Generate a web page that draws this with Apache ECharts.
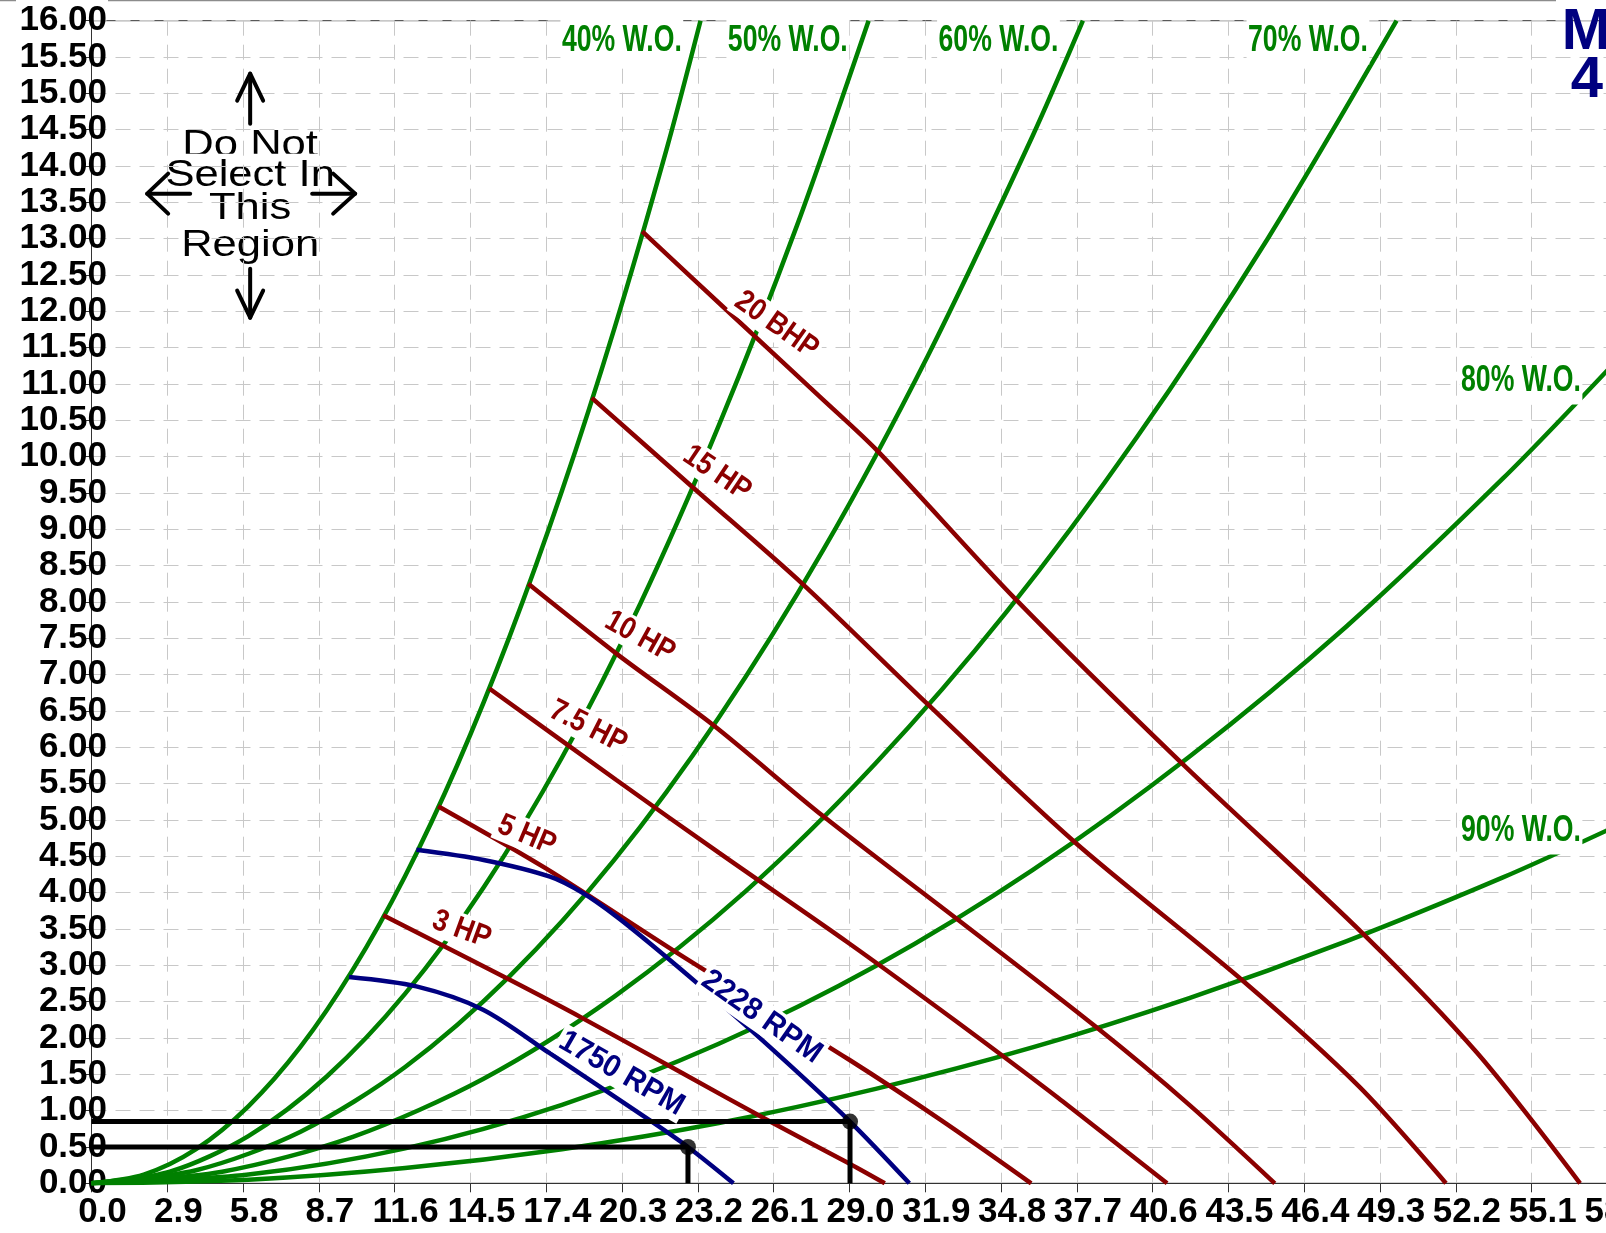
<!DOCTYPE html>
<html>
<head>
<meta charset="utf-8">
<script src="https://cdn.jsdelivr.net/npm/echarts@6/dist/echarts.min.js"></script>
<style>
  html, body { margin: 0; padding: 0; background: #fff; }
  #chart { width: 1606px; height: 1233px; }
</style>
</head>
<body>
<div id="chart"></div>
<script>
// Fan selection chart: system curves (% wide open), brake-horsepower lines and speed curves.

// ---- axis ticks ----
const xTickValues = [0.0, 2.9, 5.8, 8.7, 11.6, 14.5, 17.4, 20.3, 23.2, 26.1, 29.0, 31.9, 34.8, 37.7, 40.6, 43.5, 46.4, 49.3, 52.2, 55.1, 58.0];
const yTickValues = [0, 0.5, 1, 1.5, 2, 2.5, 3, 3.5, 4, 4.5, 5, 5.5, 6, 6.5, 7, 7.5, 8, 8.5, 9, 9.5, 10, 10.5, 11, 11.5, 12, 12.5, 13, 13.5, 14, 14.5, 15, 15.5, 16];

// ---- system curves, % wide open ----
const wo40 = [[0,0],[2,0.12],[4,0.47],[6,1.06],[8,1.88],[10,2.94],[12,4.23],[14,5.76],[16,7.53],[18,9.53],[20,11.76],[22,14.23],[23.3,16.0]];
const wo50 = [[0,0],[3,0.16],[6,0.65],[9,1.47],[12,2.61],[15,4.07],[18,5.86],[21,7.98],[24,10.43],[27,13.19],[29.73,16.0]];
const wo60 = [[0,0],[4,0.18],[8,0.71],[12,1.60],[16,2.85],[20,4.45],[24,6.41],[28,8.72],[32,11.39],[36,14.41],[37.93,16.0]];
const wo70 = [[0,0],[5,0.16],[10,0.64],[15,1.44],[20,2.57],[25,4.01],[30,5.78],[35,7.86],[40,10.27],[45,13.0],[49.93,16.0]];
const wo80 = [[0,0],[6,0.12],[12,0.48],[18,1.08],[24,1.92],[30,2.99],[36,4.31],[42,5.87],[48,7.66],[54,9.70],[58,11.19]];
const wo90 = [[0,0],[6,0.05],[12,0.21],[18,0.47],[24,0.83],[30,1.30],[36,1.87],[42,2.55],[48,3.33],[54,4.21],[58,4.86]];

// ---- brake horsepower lines ----
const hp3  = [[11.16,3.69],[16.0,2.80],[18.8,2.27],[22.63,1.51],[25.96,0.85],[28.9,0.29],[30.35,0]];
const hp5  = [[13.26,5.19],[17.4,4.33],[22.63,3.12],[28.99,1.70],[32.5,0.87],[35.95,0]];
const hp75 = [[15.22,6.81],[20.08,5.55],[24.0,4.55],[28.99,3.30],[33.0,2.25],[37.0,1.17],[41.15,0]];
const hp10 = [[16.71,8.25],[20.08,7.29],[23.77,6.31],[28.0,5.05],[33.1,3.64],[38.4,2.16],[42.0,1.08],[45.27,0]];
const hp15 = [[19.14,10.81],[23.0,9.58],[27.2,8.25],[32.0,6.59],[37.6,4.70],[44.07,2.78],[48.5,1.33],[51.82,0]];
const hp20 = [[21.07,13.10],[24.5,11.95],[27.85,10.83],[30.07,10.08],[35.35,8.04],[41.72,5.78],[48.69,3.42],[53.0,1.80],[56.95,0]];

// ---- fan speed curves ----
const rpm1750 = [[9.85,2.84],[12.43,2.71],[14.98,2.39],[17.53,1.79],[21.35,0.87],[22.82,0.50],[24.56,0]];
const rpm2228 = [[12.43,4.59],[15.0,4.45],[17.54,4.22],[18.82,3.99],[20.09,3.67],[21.37,3.30],[23.28,2.72],[26.0,1.86],[29.02,0.85],[31.29,0]];

// ---- selected operating points ----
const opPoints = [[22.82,0.50],[29.02,0.85]];

// ---- curve captions ----
const woNames = ['40% W.O.', '50% W.O.', '60% W.O.', '70% W.O.', '80% W.O.', '90% W.O.'];
const hpNames = ['3 HP', '5 HP', '7.5 HP', '10 HP', '15 HP', '20 BHP'];
const rpmNames = ['1750 RPM', '2228 RPM'];

// caption anchors (data coordinates) and text angles
const woAnchors = [[20.29,15.72],[26.64,15.72],[34.70,15.72],[46.54,15.72],[54.69,11.04],[54.69,4.85]];
const hpAnchors = [[14.16,3.49],[16.65,4.79],[19.0,6.28],[20.98,7.52],[23.93,9.77],[26.21,11.81]];
const hpAngles = [-20, -23, -27, -29, -34, -35];
const rpmAnchors = [[20.28,1.51],[25.64,2.29]];
const rpmAngles = [-30, -35];

const FONT = "'Liberation Sans', Arial, Helvetica, sans-serif";
const GREEN = '#008000', RED = '#8b0000', NAVY = '#000080', GRID = '#c8c8c8';

const chart = echarts.init(document.getElementById('chart'), null, { renderer: 'canvas' });

function curve(name, data, color, z) {
  return {
    name, type: 'line', data, z,
    smooth: 0.3,
    symbol: 'none', showSymbol: false,
    lineStyle: { color, width: 4.5 },
    emphasis: { disabled: true }, silent: true
  };
}

const woData = [wo40, wo50, wo60, wo70, wo80, wo90];
const hpData = [hp3, hp5, hp75, hp10, hp15, hp20];
const rpmData = [rpm1750, rpm2228];

const series = [];
woData.forEach((d, i) => series.push(curve(woNames[i], d, GREEN, 2)));
hpData.forEach((d, i) => series.push(curve(hpNames[i], d, RED, 3)));
rpmData.forEach((d, i) => series.push(curve(rpmNames[i], d, NAVY, 4)));

// guide lines from each operating point to both axes
opPoints.forEach((p, i) => {
  series.push({
    name: 'guide' + i, type: 'line', z: 5, smooth: false, symbol: 'none',
    data: [[0, p[1]], [p[0], p[1]], [p[0], 0]],
    lineStyle: { color: '#000', width: 5 }, silent: true
  });
});
series.push({
  name: 'points', type: 'scatter', z: 6, data: opPoints,
  symbol: 'circle', symbolSize: 16, itemStyle: { color: '#000' }, silent: true
});

const option = {
  animation: false,
  backgroundColor: '#fff',
  textStyle: { fontFamily: FONT },
  grid: {
    left: 91.5, top: 20.7, width: 1516, height: 1162.6,
    outerBoundsMode: 'none', containLabel: false,
    show: true, borderColor: '#333', borderWidth: 1, backgroundColor: 'transparent'
  },
  xAxis: {
    type: 'value',
    min: xTickValues[0], max: xTickValues[xTickValues.length - 1],
    interval: xTickValues[1] - xTickValues[0],
    axisLine: { show: true, onZero: false, lineStyle: { color: '#333', width: 1 } },
    axisTick: { show: true, length: 9, lineStyle: { color: '#333', width: 1 } },
    axisLabel: {
      fontSize: 35, fontWeight: 'bold', color: '#000', fontFamily: FONT,
      margin: 12, padding: [0, 0, 0, 22],
      formatter: v => v.toFixed(1), showMinLabel: true, showMaxLabel: true
    },
    splitLine: { show: true, lineStyle: { color: GRID, width: 1, type: [15, 9] } }
  },
  yAxis: {
    type: 'value',
    min: yTickValues[0], max: yTickValues[yTickValues.length - 1],
    interval: yTickValues[1] - yTickValues[0],
    axisLine: { show: true, onZero: false, lineStyle: { color: '#333', width: 1 } },
    axisTick: { show: true, length: 8, lineStyle: { color: '#333', width: 1 } },
    axisLabel: {
      fontSize: 35, fontWeight: 'bold', color: '#000', fontFamily: FONT,
      margin: -15.5, formatter: v => v.toFixed(2), showMinLabel: true, showMaxLabel: true
    },
    splitLine: { show: true, lineStyle: { color: GRID, width: 1, type: [15, 9] } }
  },
  series
};

chart.setOption(option);

// ---- captions and annotations, placed through the chart's own coordinate system ----
const toPx = pt => chart.convertToPixel({ gridIndex: 0 }, pt);
const deg = a => a * Math.PI / 180;
const graphics = [];

woNames.forEach((t, i) => {
  const [x, y] = toPx(woAnchors[i]);
  graphics.push({
    type: 'text', x, y, scaleX: 0.72, z: 20,
    style: {
      text: t, fill: GREEN, font: `bold 37px ${FONT}`,
      align: 'center', verticalAlign: 'middle',
      backgroundColor: '#fff', padding: [6, 2, 4, 2]
    }
  });
});

function slantedCaption(text, anchor, angle, color, size, sx) {
  const [x, y] = toPx(anchor);
  return {
    type: 'text', x, y, rotation: deg(angle), scaleX: sx, z: 15,
    style: {
      text, fill: color, font: `bold ${size}px ${FONT}`,
      align: 'center', verticalAlign: 'middle',
      backgroundColor: '#fff', padding: [1, 3, 0, 3]
    }
  };
}
hpNames.forEach((t, i) => graphics.push(slantedCaption(t, hpAnchors[i], hpAngles[i], RED, 31, 0.87)));
rpmNames.forEach((t, i) => graphics.push(slantedCaption(t, rpmAnchors[i], rpmAngles[i], NAVY, 31, 0.95)));

// "Do Not Select In This Region" notice with four arrows
const [cx, cy] = toPx([6.07, 13.62]);
const noticeLines = ['Do Not', 'Select In', 'This', 'Region'];
const noticeOffsets = [-48, -18, 15, 52];
const noticePadTop = [6, 6, 6, 14];
noticeLines.forEach((t, i) => {
  graphics.push({
    type: 'text', x: cx, y: cy + noticeOffsets[i], scaleX: 1.21, z: -1,
    style: {
      text: t, fill: '#000', font: `36px ${FONT}`,
      align: 'center', verticalAlign: 'middle',
      backgroundColor: '#fff', padding: [noticePadTop[i], 1, 2, 1]
    }
  });
});
const arrowStyle = { stroke: '#000', lineWidth: 4, fill: null, lineCap: 'round', lineJoin: 'round' };
const arrows = [
  // up
  [[[0, -70], [0, -120]], [[-13, -93], [0, -120], [13, -93]]],
  // down
  [[[0, 75], [0, 124]], [[-13, 97], [0, 124], [13, 97]]],
  // left
  [[[-60, 0], [-103, 0]], [[-82, -20], [-103, 0], [-82, 20]]],
  // right
  [[[62, 0], [105, 0]], [[83, -20], [105, 0], [83, 20]]]
];
arrows.forEach(([stem, head]) => {
  [stem, head].forEach(pts => {
    graphics.push({
      type: 'polyline', z: 1,
      shape: { points: pts.map(p => [cx + p[0], cy + p[1]]) },
      style: arrowStyle
    });
  });
});

// chart tag in the top-right corner
graphics.push({
  type: 'text', x: 1586, y: 33, z: 20,
  style: { text: 'M', fill: NAVY, font: `bold 58px ${FONT}`, align: 'center', verticalAlign: 'middle' }
});
graphics.push({
  type: 'text', x: 1587, y: 81, z: 20,
  style: { text: '4', fill: NAVY, font: `bold 58px ${FONT}`, align: 'center', verticalAlign: 'middle' }
});

// thin rule along the upper edge
graphics.push({ type: 'line', z: 0, shape: { x1: 0, y1: 0.5, x2: 16, y2: 0.5 }, style: { stroke: '#8c8c8c', lineWidth: 1.5 } });
graphics.push({ type: 'line', z: 0, shape: { x1: 108, y1: 0.5, x2: 1556, y2: 0.5 }, style: { stroke: '#8c8c8c', lineWidth: 1.5 } });

chart.setOption({ graphic: graphics });
</script>
</body>
</html>
